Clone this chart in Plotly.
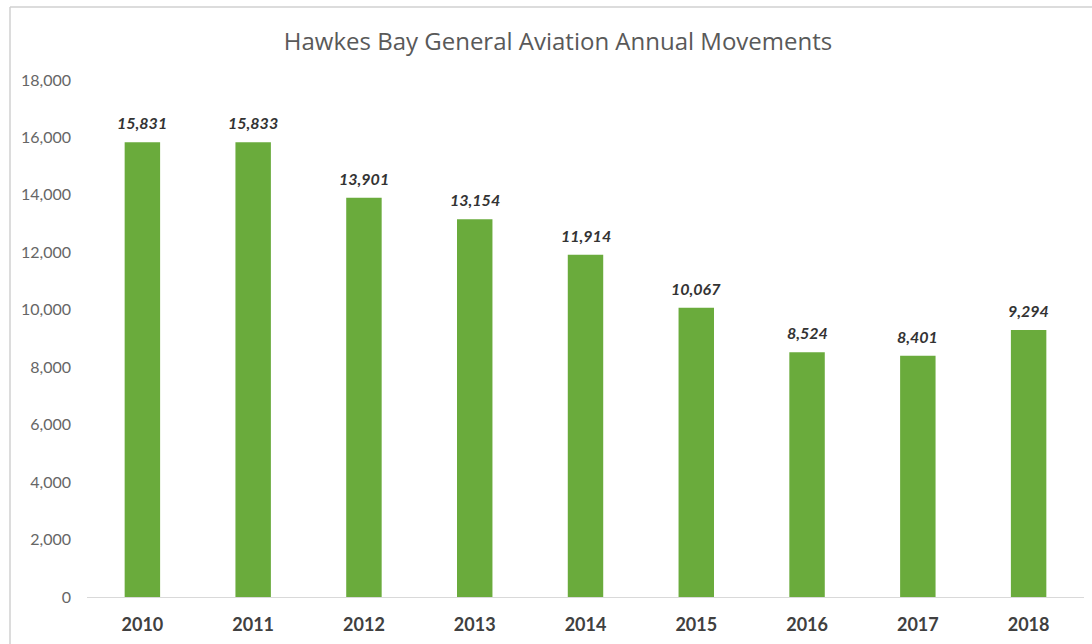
import plotly.graph_objects as go

years = ["2010", "2011", "2012", "2013", "2014", "2015", "2016", "2017", "2018"]
movements = [15831, 15833, 13901, 13154, 11914, 10067, 8524, 8401, 9294]
y_ticks = [0, 2000, 4000, 6000, 8000, 10000, 12000, 14000, 16000, 18000]
y_tick_labels = ["0", "2,000", "4,000", "6,000", "8,000", "10,000", "12,000", "14,000", "16,000", "18,000"]

W, H = 1092, 644
ml, mr, mt, mb = 87, 8, 80, 47
pw, ph = W - ml - mr, H - mt - mb
FONT = "Lato, Open Sans, sans-serif"

def px_x(x):
    return (x - ml) / pw

def px_y(y):
    return (H - mb - y) / ph

fig = go.Figure()
fig.add_trace(go.Bar(
    x=years, y=movements,
    marker=dict(color="#6aab3c", line=dict(width=0)),
    hoverinfo="skip",
))

# category axis: annotations use the category serial number
annotations = [
    dict(x=i, y=v, xref="x", yref="y", text=f"<b><i>{v:,}</i></b>",
         showarrow=False, yanchor="bottom", yshift=8,
         font=dict(family=FONT, size=16, color="#333333"))
    for i, v in enumerate(movements)
]

fig.update_layout(
    width=W, height=H,
    margin=dict(l=ml, r=mr, t=mt, b=mb),
    paper_bgcolor="white", plot_bgcolor="white",
    bargap=0.68,
    showlegend=False,
    title=dict(text="Hawkes Bay General Aviation Annual Movements",
               x=558 / W, xanchor="center", y=1 - 42 / H, yanchor="middle",
               font=dict(family="Open Sans, sans-serif", size=24, color="#595959")),
    xaxis=dict(type="category", showline=True, linecolor="#d9d9d9", linewidth=1, showgrid=False,
               ticks="", tickfont=dict(family=FONT, size=18, color="#404040", weight="bold"),
               ticklabelstandoff=11),
    yaxis=dict(range=[0, 18000], tickvals=y_ticks, ticktext=y_tick_labels,
               showgrid=False, zeroline=False, showline=False, ticks="",
               tickfont=dict(family=FONT, size=16, color="#666666"),
               ticklabelstandoff=15),
    annotations=annotations,
    shapes=[
        dict(type="line", xref="paper", yref="paper",
             x0=px_x(10), x1=px_x(1092), y0=px_y(7), y1=px_y(7),
             line=dict(color="#d0d0d0", width=1.5)),
        dict(type="line", xref="paper", yref="paper",
             x0=px_x(10), x1=px_x(10), y0=px_y(7), y1=px_y(644),
             line=dict(color="#d0d0d0", width=1.5)),
    ],
)

fig.write_html("out.html")
